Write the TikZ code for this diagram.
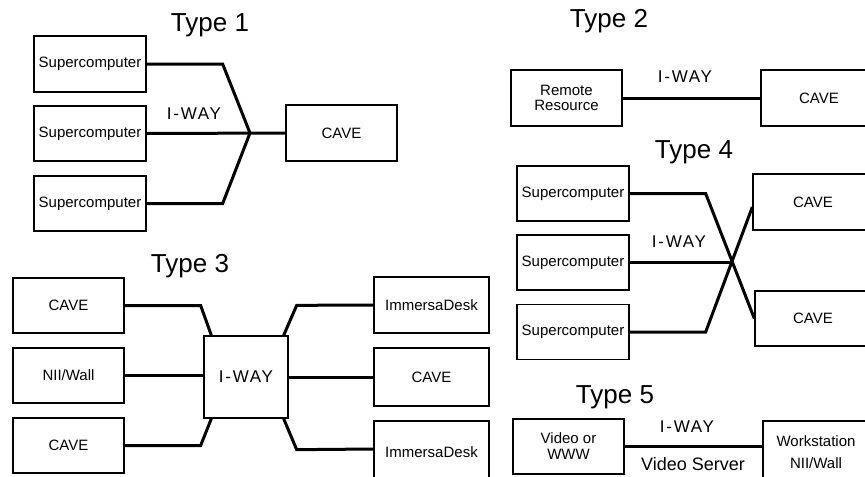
\documentclass[tikz,border=0pt]{standalone}
\usepackage{fontspec}
\setmainfont{Liberation Sans}
\newfontfamily\spacedfont[LetterSpace=10]{Liberation Sans}
\usetikzlibrary{calc}
\newlength{\pxu}\setlength{\pxu}{0.75pt}
\tikzset{
  box/.style={draw, line width=1pt, inner sep=0pt, align=center,
    font=\fontsize{11.25}{13}\selectfont},
  link/.style={line width=2.25pt, line join=miter},
  ttl/.style={anchor=base, inner sep=0pt, font=\fontsize{19.5}{22}\selectfont},
  iway/.style={inner sep=0pt, font=\spacedfont\fontsize{12.75}{15}\selectfont},
}
\begin{document}
\begin{tikzpicture}[x=0.75pt,y=-0.75pt]
\useasboundingbox (0,0) rectangle (865,476);
% ---------- Type 1
\node[ttl] (t1) at (210,31) {Type 1};
\node[box, minimum width=112\pxu, minimum height=56\pxu] (s1) at (90,64) {Supercomputer};
\node[box, minimum width=112\pxu, minimum height=55\pxu] (s2) at (90,133.5) {Supercomputer};
\node[box, minimum width=112\pxu, minimum height=55\pxu] (s3) at (90,203.5) {Supercomputer};
\node[box, minimum width=111\pxu, minimum height=56\pxu] (c1) at (341.5,133) {CAVE};
\coordinate (j1) at (250,133);
\node[iway] (l1) at (194,114) {I-WAY};
\draw[link] (s1.east) -- ++(76,0) -- (j1);
\draw[link] (s3.east) -- ++(76,0) -- (j1);
\draw[link] (s2.east) -- (c1.west);
% ---------- Type 2
\node[ttl] (t2) at (609,27) {Type 2};
\node[box, minimum width=111\pxu, minimum height=56\pxu, font=\fontsize{11.25}{11.25}\selectfont] (rr) at (566.5,98) {Remote\\Resource};
\node[box, minimum width=116\pxu, minimum height=56\pxu] (c2) at (819,98) {CAVE};
\node[iway] (l2) at (685,77) {I-WAY};
\draw[link] (rr.east) -- (c2.west);
% ---------- Type 3
\node[ttl] (t3) at (190,272) {Type 3};
\node[box, minimum width=111\pxu, minimum height=55\pxu] (a1) at (68.5,305.5) {CAVE};
\node[box, minimum width=111\pxu, minimum height=55\pxu] (a2) at (68.5,375.5) {NII/Wall};
\node[box, minimum width=111\pxu, minimum height=55\pxu] (a3) at (68.5,445.5) {CAVE};
\node[box, minimum width=84\pxu, minimum height=82\pxu, font=\spacedfont\fontsize{12.75}{15}\selectfont] (iw) at (246,377) {I-WAY};
\node[box, minimum width=115\pxu, minimum height=56\pxu] (b1) at (431.5,305) {ImmersaDesk};
\node[box, minimum width=115\pxu, minimum height=58\pxu] (b2) at (431.5,377) {CAVE};
\node[box, minimum width=115\pxu, minimum height=62\pxu] (b3) at (431.5,452) {ImmersaDesk};
\draw[link] (a1.east) -- ++(76,0) -- ($(iw.north west)+(8,0)$);
\draw[link] (a2.east) -- (a2.east -| iw.west);
\draw[link] (a3.east) -- ++(76,0) -- ($(iw.south west)+(8,0)$);
\draw[link] ($(iw.north east)+(-5,0)$) -- ++(13,-30) -- (b1.west);
\draw[link] (iw.east) -- (iw.east -| b2.west);
\draw[link] ($(iw.south east)+(-5,0)$) -- ++(13,31) -- ($(b3.west)+(0,-3)$);
% ---------- Type 4
\node[ttl] (t4) at (694,158) {Type 4};
\node[box, minimum width=112\pxu, minimum height=55\pxu] (u1) at (573,193.5) {Supercomputer};
\node[box, minimum width=112\pxu, minimum height=55\pxu] (u2) at (573,262.5) {Supercomputer};
\node[box, minimum width=112\pxu, minimum height=55\pxu] (u3) at (573,332) {Supercomputer};
\node[box, minimum width=120\pxu, minimum height=56\pxu] (v1) at (813,202) {CAVE};
\node[box, minimum width=116\pxu, minimum height=55\pxu] (v2) at (813,318.5) {CAVE};
\coordinate (x4) at (733,263);
\node[iway] (l4) at (679,242) {I-WAY};
\draw[link] (u1.east) -- ++(76,0) -- (v2.west);
\draw[link] (u3.east) -- ++(76,0) -- ($(v1.west)+(0,5)$);
\draw[link] (u2.east) -- (u2.east -| x4);
% ---------- Type 5
\node[ttl] (t5) at (615,403) {Type 5};
\node[box, minimum width=111\pxu, minimum height=55\pxu, font=\fontsize{11.25}{12}\selectfont] (vw) at (568.5,446.5) {Video or\\WWW};
\node[box, minimum width=106\pxu, minimum height=62\pxu, font=\fontsize{11.25}{16.5}\selectfont] (ws) at (816,452) {Workstation\\NII/Wall};
\node[iway] (l5) at (687,427) {I-WAY};
\node[inner sep=0pt, font=\fontsize{13.5}{16}\selectfont] (vs) at (693,464) {Video Server};
\draw[link] (vw.east) -- (vw.east -| ws.west);
\end{tikzpicture}
\end{document}
